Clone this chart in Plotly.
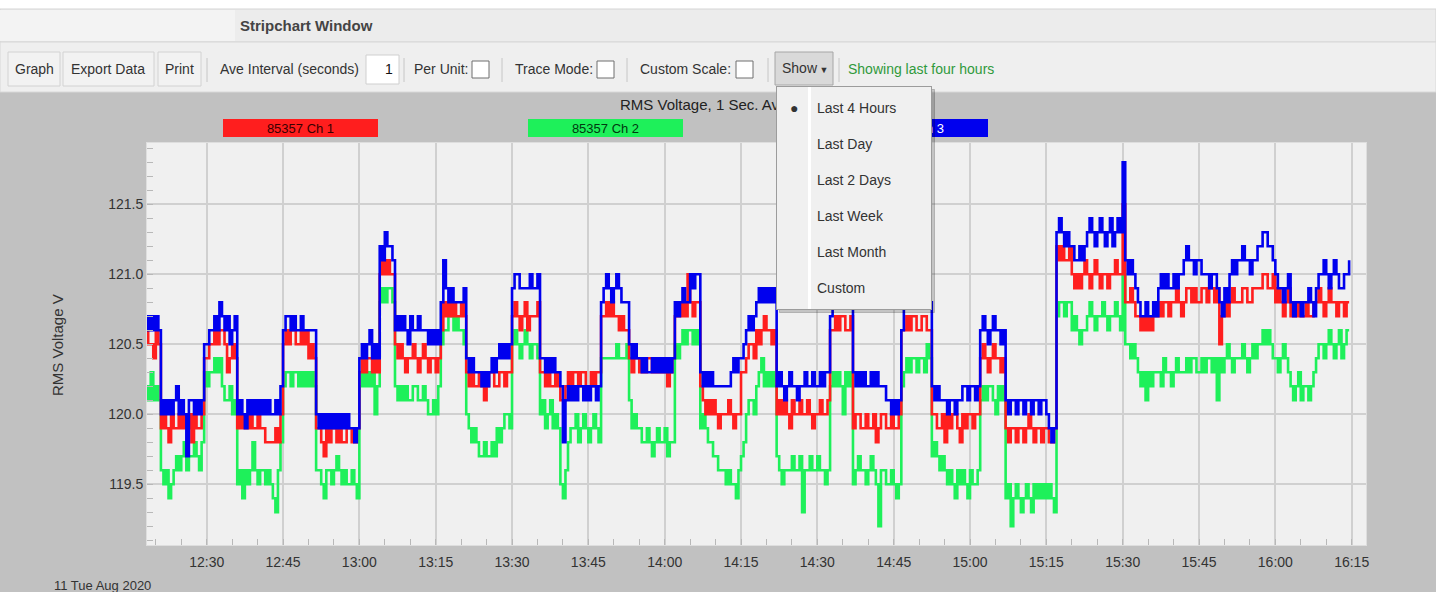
import pandas as pd
import plotly.graph_objects as go

# ---------------- data (30-second samples starting 12:18:00) ----------------
START = "2020-08-11 12:18:00"
SERIES_NAMES = ["85357 Ch 1", "85357 Ch 2", "85357 Ch 3"]
X_TICK_LABELS = ["12:30", "12:45", "13:00", "13:15", "13:30", "13:45", "14:00", "14:15",
                 "14:30", "14:45", "15:00", "15:15", "15:30", "15:45", "16:00", "16:15"]
Y_TICKS = [119.5, 120.0, 120.5, 121.0, 121.5]

ch1 = [
    120.6, 120.5, 120.5, 120.4, 120.6, 120.5,
    119.9, 120.0, 119.9, 119.8, 120.0, 119.9, 119.9, 120.0, 119.9, 120.0, 119.9, 120.0, 119.8, 120.0, 119.9, 119.9, 120.0, 120.4,
    120.4, 120.5, 120.5, 120.6, 120.5, 120.6, 120.6, 120.5, 120.3, 120.4, 120.5, 120.4,
    119.9, 120.0, 119.9, 120.0, 119.9, 120.0, 119.9, 119.9, 120.0, 119.9, 119.9, 119.8, 119.8, 119.8, 119.8, 119.9, 119.8, 120.0,
    120.5, 120.6, 120.5, 120.6, 120.6, 120.5, 120.5, 120.6, 120.5, 120.6, 120.4, 120.5, 120.4, 119.9,
    119.9, 119.8, 119.7, 119.9, 119.8, 119.9, 119.9, 119.8, 119.9, 119.8, 119.8, 119.9, 119.9, 119.8, 119.8, 119.9,
    120.3, 120.4, 120.3, 120.4, 120.4, 120.3, 120.4, 120.3,
    121.0, 121.1, 121.0, 121.1, 121.0, 121.0,
    120.5, 120.4, 120.5, 120.4, 120.3, 120.4, 120.4, 120.5, 120.4, 120.3, 120.4, 120.5, 120.4, 120.3, 120.4, 120.4, 120.3, 120.4,
    120.6, 120.8, 120.7, 120.8, 120.7, 120.8, 120.7, 120.7, 120.8, 120.7,
    120.3, 120.2, 120.3, 120.2, 120.2, 120.3, 120.2, 120.1, 120.2, 120.3, 120.3, 120.2, 120.2, 120.3, 120.3, 120.2, 120.3, 120.3,
    120.7, 120.8, 120.7, 120.6, 120.7, 120.8, 120.6, 120.7, 120.7, 120.7, 120.8, 120.3,
    120.3, 120.2, 120.3, 120.2, 120.2, 120.3, 120.2, 120.1, 120.1, 120.2, 120.3, 120.2, 120.3, 120.3, 120.2, 120.3, 120.3, 120.2, 120.2, 120.3, 120.2, 120.3, 120.3, 120.7,
    120.7, 120.8, 120.7, 120.8, 120.7, 120.7, 120.6, 120.7, 120.6, 120.6,
    120.4, 120.3, 120.4, 120.4, 120.3, 120.4, 120.3, 120.4, 120.4, 120.3, 120.3, 120.3, 120.3, 120.4, 120.3, 120.2, 120.3, 120.4,
    120.7, 120.8, 120.7, 120.8, 120.7, 121.0, 120.8, 120.7, 120.8, 120.8,
    120.2, 120.1, 120.0, 120.1, 120.0, 120.1, 120.0, 119.9, 120.0, 120.0, 120.0, 120.1, 120.0, 119.9, 120.0, 120.0,
    120.3, 120.3, 120.4, 120.5, 120.5, 120.4,
    120.6, 120.5, 120.6, 120.7, 120.6, 120.6, 120.5, 120.6,
    120.0, 120.1, 120.0, 120.1, 120.0, 119.9, 120.1, 120.0, 120.0, 120.1, 120.0, 120.0, 120.1, 120.0, 119.9, 120.0, 120.0, 120.1, 120.0, 120.0, 120.1, 120.6,
    120.6, 120.7, 120.6, 120.7, 120.7, 120.6, 120.6, 120.7,
    119.9, 120.0, 120.0, 119.9, 119.9, 120.0, 119.9, 119.9, 120.0, 119.8, 119.9, 120.0, 120.0, 119.9, 119.9, 120.0, 119.9, 119.9, 120.0, 120.6,
    120.6, 120.7, 120.6, 120.7, 120.7, 120.6, 120.6, 120.7, 120.7, 120.6, 120.6, 120.0,
    120.0, 119.9, 119.9, 120.0, 119.8, 120.0, 119.9, 120.0, 120.0, 119.9, 119.8, 120.0, 119.9, 120.0, 120.0, 119.9, 120.0, 120.0,
    120.4, 120.5, 120.4, 120.3, 120.4, 120.5, 120.4, 120.4, 120.3, 120.4,
    119.9, 119.8, 119.9, 119.9, 119.8, 119.9, 119.9, 119.8, 119.9, 120.0, 119.9, 119.8, 119.9, 119.9, 119.8, 119.9, 119.9, 119.8, 119.8, 119.9,
    121.2, 121.1, 121.2, 121.1, 121.1, 121.2,
    121.0, 120.9, 121.0, 120.9, 121.0, 121.1,
    121.0, 120.9, 121.0, 121.1, 121.0, 120.9, 121.0, 121.0, 120.9, 121.0, 121.0, 121.1, 121.0, 121.0,
    121.5, 120.8,
    120.8, 120.9, 120.8, 120.7,
    120.7, 120.6, 120.7, 120.6, 120.7, 120.6, 120.7, 120.7,
    120.8, 120.7, 120.8, 120.8, 120.7, 120.8, 120.8, 120.9, 120.8, 120.7,
    120.8, 120.9, 120.9, 120.8, 120.9, 120.8, 120.8, 120.9,
    120.9, 120.8, 120.9, 120.9, 120.8, 120.9,
    120.5, 120.7, 120.8, 120.7, 120.8, 120.9, 120.8, 120.8,
    120.8, 120.9, 120.9, 120.8, 120.8, 120.9, 120.9, 120.9,
    120.9, 121.0, 121.0, 120.9, 120.9, 121.0,
    120.8, 120.9, 120.8, 120.7, 120.8, 120.9,
    120.7, 120.8, 120.7, 120.8, 120.7, 120.7, 120.8, 120.7, 120.7, 120.8,
    120.8, 120.9, 120.8, 120.7, 120.8, 120.9, 120.8, 120.8, 120.7, 120.8, 120.8, 120.7, 120.8, 120.8,
]

ch2 = [
    120.2, 120.1, 120.3, 120.1, 120.2, 120.1,
    119.6, 119.5, 119.6, 119.4, 119.5, 119.6, 119.7, 119.6, 119.7, 119.8, 119.6, 119.7, 119.7, 119.8, 119.7, 119.6, 119.8, 120.3,
    120.2, 120.3, 120.3, 120.4, 120.3, 120.4, 120.2, 120.1, 120.1, 120.2, 120.0, 120.1,
    119.5, 119.6, 119.4, 119.6, 119.5, 119.6, 119.8, 119.6, 119.5, 119.6, 119.6, 119.5, 119.6, 119.5, 119.4, 119.3, 119.6, 119.8,
    120.2, 120.3, 120.3, 120.2, 120.3, 120.3, 120.2, 120.3, 120.2, 120.3, 120.2, 120.3, 120.2, 119.6,
    119.6, 119.5, 119.4, 119.6, 119.6, 119.5, 119.6, 119.7, 119.6, 119.5, 119.6, 119.5, 119.5, 119.6, 119.5, 119.4,
    120.2, 120.3, 120.2, 120.3, 120.2, 120.3, 120.0, 120.2,
    120.8, 120.9, 120.8, 120.9, 120.9, 120.8,
    120.2, 120.1, 120.2, 120.1, 120.2, 120.1, 120.1, 120.2, 120.2, 120.1, 120.1, 120.2, 120.1, 120.0, 120.0, 120.1, 120.0, 120.2,
    120.5, 120.6, 120.6, 120.7, 120.7, 120.6, 120.7, 120.6, 120.6, 120.5,
    120.0, 119.9, 119.8, 119.9, 119.8, 119.7, 119.7, 119.8, 119.7, 119.7, 119.8, 119.7, 119.9, 119.8, 119.9, 120.0, 120.0, 119.9,
    120.5, 120.6, 120.5, 120.4, 120.5, 120.6, 120.5, 120.4, 120.5, 120.5, 120.4, 120.0,
    120.1, 119.9, 120.0, 120.1, 119.9, 120.0, 119.9, 119.5, 119.4, 119.6, 119.8, 119.9, 119.9, 120.0, 119.8, 119.9, 120.0, 119.9, 119.8, 119.9, 120.0, 119.9, 119.8, 120.4,
    120.4, 120.4, 120.4, 120.4, 120.4, 120.5, 120.4, 120.4, 120.4, 120.5,
    120.1, 119.9, 120.0, 119.9, 119.9, 119.8, 119.8, 119.9, 119.8, 119.7, 119.8, 119.9, 119.8, 119.8, 119.9, 119.7, 119.8, 119.8,
    120.5, 120.4, 120.5, 120.6, 120.5, 120.6, 120.6, 120.5, 120.6, 120.5,
    119.9, 120.0, 119.9, 119.8, 119.8, 119.7, 119.7, 119.6, 119.6, 119.6, 119.5, 119.6, 119.5, 119.5, 119.4, 119.6,
    119.7, 119.8, 120.0, 120.1, 120.1, 120.0,
    120.2, 120.3, 120.4, 120.2, 120.3, 120.2, 120.3, 120.2,
    119.7, 119.6, 119.5, 119.6, 119.6, 119.6, 119.7, 119.6, 119.6, 119.7, 119.3, 119.6, 119.6, 119.7, 119.6, 119.6, 119.7, 119.6, 119.6, 119.5, 119.6, 120.2,
    120.3, 120.2, 120.3, 120.2, 120.0, 120.3, 120.2, 120.3,
    119.5, 119.6, 119.7, 119.6, 119.6, 119.5, 119.6, 119.7, 119.6, 119.5, 119.2, 119.6, 119.6, 119.5, 119.5, 119.6, 119.5, 119.4, 119.5, 120.2,
    120.3, 120.4, 120.3, 120.4, 120.4, 120.3, 120.4, 120.4, 120.3, 120.5, 120.4, 119.7,
    119.8, 119.7, 119.6, 119.7, 119.6, 119.5, 119.6, 119.5, 119.4, 119.6, 119.5, 119.6, 119.5, 119.4, 119.6, 119.5, 119.5, 119.6,
    120.1, 120.2, 120.1, 120.2, 120.2, 120.1, 120.0, 120.2, 120.1, 120.2,
    119.4, 119.5, 119.2, 119.4, 119.5, 119.4, 119.3, 119.4, 119.5, 119.4, 119.3, 119.5, 119.4, 119.5, 119.4, 119.5, 119.4, 119.5, 119.4, 119.3,
    120.7, 120.8, 120.8, 120.7, 120.8, 120.8,
    120.6, 120.7, 120.6, 120.5, 120.6, 120.6,
    120.7, 120.8, 120.7, 120.6, 120.7, 120.7, 120.8, 120.7, 120.6, 120.7, 120.7, 120.8, 120.7, 120.6,
    121.0, 120.5,
    120.5, 120.4, 120.5, 120.4,
    120.3, 120.2, 120.3, 120.1, 120.3, 120.2, 120.3, 120.3,
    120.3, 120.2, 120.4, 120.3, 120.3, 120.2, 120.3, 120.4, 120.3, 120.3,
    120.3, 120.4, 120.3, 120.4, 120.4, 120.3, 120.3, 120.4,
    120.3, 120.4, 120.4, 120.3, 120.4, 120.1,
    120.4, 120.3, 120.4, 120.5, 120.4, 120.3, 120.4, 120.4,
    120.4, 120.5, 120.4, 120.3, 120.4, 120.5, 120.4, 120.5,
    120.5, 120.6, 120.5, 120.6, 120.5, 120.4,
    120.4, 120.3, 120.4, 120.5, 120.4, 120.3,
    120.2, 120.1, 120.2, 120.3, 120.1, 120.2, 120.2, 120.1, 120.2, 120.3,
    120.4, 120.5, 120.5, 120.4, 120.5, 120.6, 120.5, 120.4, 120.5, 120.6, 120.4, 120.5, 120.6, 120.6,
]

ch3 = [
    120.7, 120.6, 120.7, 120.6, 120.7, 120.6,
    120.0, 120.1, 120.0, 120.1, 120.0, 120.1, 120.2, 120.0, 120.1, 120.0, 119.7, 120.1, 120.1, 120.0, 120.1, 120.0, 120.1, 120.5,
    120.5, 120.6, 120.6, 120.7, 120.6, 120.8, 120.7, 120.6, 120.7, 120.5, 120.6, 120.7,
    120.0, 120.1, 120.0, 119.9, 120.1, 120.0, 120.1, 120.0, 120.1, 120.0, 120.1, 120.0, 120.1, 120.0, 120.0, 120.1, 120.0, 120.2,
    120.6, 120.7, 120.7, 120.6, 120.7, 120.6, 120.6, 120.7, 120.6, 120.6, 120.6, 120.6, 120.6, 120.0,
    119.9, 120.0, 119.9, 120.0, 119.9, 120.0, 119.9, 120.0, 119.9, 120.0, 119.9, 120.0, 119.9, 119.9, 119.8, 119.9,
    120.4, 120.5, 120.4, 120.5, 120.6, 120.4, 120.5, 120.4,
    121.2, 121.1, 121.3, 121.2, 121.2, 121.1,
    120.6, 120.7, 120.6, 120.7, 120.6, 120.5, 120.7, 120.6, 120.6, 120.7, 120.6, 120.6, 120.6, 120.5, 120.6, 120.5, 120.6, 120.5,
    120.8, 121.1, 120.9, 120.8, 120.9, 120.8, 120.8, 120.8, 120.8, 120.9,
    120.4, 120.3, 120.4, 120.3, 120.3, 120.3, 120.2, 120.3, 120.2, 120.3, 120.4, 120.3, 120.4, 120.5, 120.4, 120.5, 120.4, 120.5,
    120.9, 121.0, 121.0, 120.9, 120.9, 120.9, 120.9, 121.0, 120.9, 120.9, 121.0, 120.4,
    120.4, 120.3, 120.4, 120.3, 120.4, 120.3, 120.3, 120.2, 119.8, 120.1, 120.2, 120.1, 120.2, 120.1, 120.2, 120.2, 120.1, 120.2, 120.1, 120.2, 120.2, 120.1, 120.2, 120.8,
    120.9, 121.0, 120.9, 120.8, 120.9, 121.0, 120.9, 120.8, 120.8, 120.8,
    120.5, 120.4, 120.5, 120.4, 120.4, 120.3, 120.4, 120.3, 120.3, 120.4, 120.3, 120.4, 120.3, 120.4, 120.3, 120.4, 120.3, 120.4,
    120.8, 120.7, 120.8, 120.9, 120.8, 120.8, 121.0, 120.9, 121.0, 121.0,
    120.3, 120.2, 120.3, 120.2, 120.3, 120.2, 120.2, 120.2, 120.2, 120.2, 120.2, 120.2, 120.3, 120.4, 120.3, 120.4,
    120.4, 120.5, 120.6, 120.7, 120.6, 120.7,
    120.8, 120.9, 120.8, 120.9, 120.8, 120.9, 120.8, 120.9,
    120.2, 120.3, 120.2, 120.1, 120.2, 120.3, 120.2, 120.2, 120.1, 120.2, 120.2, 120.3, 120.2, 120.2, 120.3, 120.2, 120.2, 120.3, 120.2, 120.3, 120.3, 120.7,
    120.8, 120.9, 120.9, 120.8, 120.9, 120.8, 120.8, 120.9,
    120.3, 120.2, 120.3, 120.2, 120.3, 120.2, 120.2, 120.3, 120.2, 120.3, 120.2, 120.2, 120.2, 120.1, 120.1, 120.0, 120.1, 120.0, 120.1, 120.6,
    120.8, 120.9, 120.9, 120.8, 120.8, 120.9, 120.9, 120.8, 120.8, 120.9, 120.8, 120.2,
    120.1, 120.2, 120.1, 120.1, 120.1, 120.0, 120.1, 120.1, 120.0, 120.1, 120.1, 120.2, 120.2, 120.1, 120.2, 120.2, 120.1, 120.2,
    120.6, 120.7, 120.6, 120.5, 120.6, 120.7, 120.6, 120.6, 120.5, 120.6,
    120.1, 120.0, 120.1, 120.1, 120.0, 120.1, 120.1, 120.0, 120.1, 120.1, 120.0, 120.1, 120.1, 120.0, 120.1, 120.1, 120.0, 119.9, 119.8, 119.9,
    121.3, 121.4, 121.3, 121.2, 121.3, 121.2,
    121.2, 121.1, 121.1, 121.2, 121.1, 121.2,
    121.3, 121.4, 121.3, 121.2, 121.3, 121.4, 121.3, 121.2, 121.3, 121.4, 121.2, 121.3, 121.4, 121.3,
    121.8, 121.1,
    121.0, 121.1, 121.0, 120.9,
    120.8, 120.7, 120.7, 120.8, 120.7, 120.7, 120.8, 120.7,
    120.9, 121.0, 120.9, 121.0, 120.9, 120.9, 121.0, 120.9, 121.0, 121.0,
    121.1, 121.2, 121.1, 121.1, 121.0, 121.1, 121.1, 121.0,
    121.0, 121.0, 120.9, 121.0, 121.0, 120.9,
    120.8, 120.7, 120.9, 120.8, 121.0, 121.1, 121.0, 121.1,
    121.1, 121.2, 121.1, 121.1, 121.0, 121.1, 121.1, 121.2,
    121.2, 121.3, 121.3, 121.2, 121.2, 121.1,
    121.0, 120.9, 120.9, 120.8, 120.9, 121.0,
    120.8, 120.7, 120.8, 120.8, 120.7, 120.8, 120.8, 120.9, 120.8, 120.7,
    120.9, 121.0, 121.0, 121.1, 121.0, 120.9, 121.0, 121.1, 121.0, 120.9, 120.9, 121.0, 121.0, 121.1,
]

SERIES = [ch1, ch2, ch3]
COLORS = ["#ff1e1e", "#1ef05a", "#0000ee"]

# ---------------- geometry helpers (pixel -> paper) ----------------
W, H = 1443, 592
PL, PR, PT, PB = 147, 1366, 143, 545
def X(px):
    return (px - PL) / (PR - PL)
def Y(py):
    return (PB - py) / (PB - PT)

FONT = "Liberation Sans, Arial, sans-serif"

fig = go.Figure()
# draw green first, then red, then blue on top
for idx in [1, 0, 2]:
    vals = SERIES[idx]
    t = pd.date_range(START, periods=len(vals), freq="30s")
    fig.add_trace(go.Scatter(x=t, y=vals, mode="lines", name=SERIES_NAMES[idx],
                             line=dict(color=COLORS[idx], width=2.6, shape="hv"),
                             showlegend=False, hoverinfo="skip"))

shapes = []
def rect(x0, y0, x1, y1, fill, line="rgba(0,0,0,0)", lw=1):
    shapes.append(dict(type="rect", xref="paper", yref="paper", x0=X(x0), x1=X(x1),
                       y0=Y(y1), y1=Y(y0), fillcolor=fill, line=dict(color=line, width=lw),
                       layer="above"))
def vline(x, y0, y1, color, lw=1):
    shapes.append(dict(type="line", xref="paper", yref="paper", x0=X(x), x1=X(x),
                       y0=Y(y1), y1=Y(y0), line=dict(color=color, width=lw), layer="above"))

# page top / header / toolbar
rect(0, 0, W, 9, "#ffffff")
rect(0, 9, 1436, 42, "#ececec", "#d4d4d4")
rect(0, 10, 235, 41, "#f3f3f3")
rect(0, 42, 1436, 92, "#efefef", "#d8d8d8")
rect(1436, 0, W, H, "#ffffff")
# buttons
rect(8, 52, 60, 86, "#f2f2f2", "#d2d2d2")
rect(63, 52, 154, 86, "#f2f2f2", "#d2d2d2")
rect(158, 52, 201, 86, "#f2f2f2", "#d2d2d2")
for sx in [207, 404, 502, 627, 768, 839]:
    vline(sx, 58, 82, "#c6c6c6")
rect(366, 55, 399, 84, "#ffffff", "#cfcfcf")
for cx in [472, 597, 736]:
    rect(cx, 61, cx + 17, 78, "#ffffff", "#6f6f6f")
rect(775, 52, 833, 85, "#d9d9d9", "#a6a6a6")

annotations = []
def txt(x, y, s, size=14, color="#333333", xanchor="left", bold=False, angle=0):
    annotations.append(dict(xref="paper", yref="paper", x=X(x), y=Y(y),
                            text=("<b>%s</b>" % s) if bold else s, showarrow=False,
                            xanchor=xanchor, yanchor="middle", textangle=angle,
                            font=dict(family=FONT, size=size, color=color)))
def boxann(x, y, w, h, fill, border=None, s=" ", size=13, color="#222222"):
    annotations.append(dict(xref="paper", yref="paper", x=X(x), y=Y(y), xanchor="left",
                            yanchor="top", width=w, height=h, text=s, showarrow=False,
                            bgcolor=fill, bordercolor=border or fill, borderwidth=1,
                            borderpad=0, align="center", valign="middle",
                            font=dict(family=FONT, size=size, color=color)))

txt(238, 26, "Stripchart Window", size=15, color="#444444", bold=True)
txt(34, 69, "Graph", xanchor="center")
txt(108, 69, "Export Data", xanchor="center")
txt(179, 69, "Print", xanchor="center")
txt(218, 69, "Ave Interval (seconds)")
txt(395, 69, "1", xanchor="right", color="#111111")
txt(412, 69, "Per Unit:")
txt(513, 69, "Trace Mode:")
txt(638, 69, "Custom Scale:")
txt(780, 68, "Show<span style='font-size:9px'> ▼</span>")
txt(846, 69, "Showing last four hours", color="#2f9a3c")

# chart title and legend boxes
txt(618, 104, "RMS Voltage, 1 Sec. Ave", size=15, color="#222222")
boxann(223, 119, 153, 16, COLORS[0], s=SERIES_NAMES[0], color="#3a0000")
boxann(528, 119, 153, 16, COLORS[1], s=SERIES_NAMES[1], color="#003a10")
boxann(833, 119, 153, 16, COLORS[2], s=SERIES_NAMES[2], color="#ffffff")

# axis annotations
txt(57, 345, "RMS Voltage V", size=15, color="#333333", xanchor="center", angle=-90)
txt(52, 585, "11 Tue Aug 2020", size=13, color="#333333")

# dropdown menu (drawn on top)
boxann(779, 89, 154, 222, "rgba(0,0,0,0.18)")
boxann(776, 86, 154, 222, "#f0f0f0", border="#9c9c9c")
boxann(808, 87, 1, 220, "#ffffff")
txt(794, 108, "●", size=14, color="#333333", xanchor="center")
for i, item in enumerate(["Last 4 Hours", "Last Day", "Last 2 Days", "Last Week",
                          "Last Month", "Custom"]):
    txt(815, 108 + 36 * i, item, size=14, color="#333333")

minutes_left = pd.Timestamp("2020-08-11 12:18:16")
minutes_right = pd.Timestamp("2020-08-11 16:17:49")
tickvals = [pd.Timestamp("2020-08-11 " + s) for s in X_TICK_LABELS]

fig.update_layout(
    width=W, height=H, autosize=False,
    margin=dict(l=PL, r=W - PR, t=PT, b=H - PB, pad=0),
    paper_bgcolor="#c1c1c1", plot_bgcolor="#f0f0f0",
    showlegend=False, shapes=shapes, annotations=annotations,
    font=dict(family=FONT, size=14, color="#333333"),
    xaxis=dict(type="date", range=[minutes_left, minutes_right], tickvals=tickvals,
               ticktext=X_TICK_LABELS, showgrid=True, gridcolor="#d0d0d0", gridwidth=1.5,
               ticks="inside", ticklen=6, tickcolor="#b8b8b8", zeroline=False,
               showline=True, linecolor="#dedede", linewidth=1, mirror=True,
               ticklabelstandoff=4,
               tickfont=dict(family=FONT, size=14, color="#333333"),
               minor=dict(dtick=5 * 60 * 1000, tick0="2020-08-11 12:30:00",
                          ticks="inside", ticklen=6, tickcolor="#b8b8b8", showgrid=False)),
    yaxis=dict(range=[119.066, 121.938], tickvals=Y_TICKS,
               ticktext=["%.1f" % v for v in Y_TICKS], showgrid=True,
               gridcolor="#d0d0d0", gridwidth=1.5, ticks="inside", ticklen=6,
               tickcolor="#b8b8b8", zeroline=False, showline=True, linecolor="#dedede",
               linewidth=1, mirror=True,
               tickfont=dict(family=FONT, size=14, color="#333333"),
               minor=dict(dtick=0.1, tick0=119.5, ticks="inside", ticklen=6,
                          tickcolor="#b8b8b8", showgrid=False)),
)

fig.write_html("out.html", config={"displayModeBar": False},
               post_script="document.body.style.margin='0';document.body.style.overflow='hidden';")
